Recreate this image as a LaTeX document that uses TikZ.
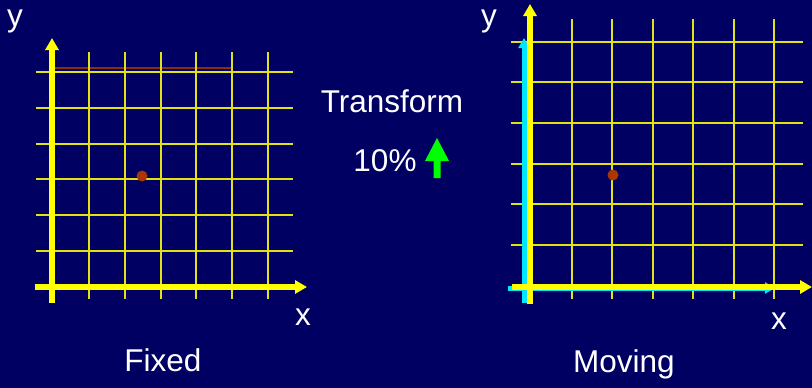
\documentclass[tikz,border=0pt]{standalone}
\usepackage{fontspec}
\setmainfont{Liberation Sans}
\usetikzlibrary{arrows.meta}
\definecolor{bg}{RGB}{0,0,98}
\definecolor{gridy}{RGB}{225,225,20}
\definecolor{axisy}{RGB}{255,255,0}
\definecolor{cy}{RGB}{0,230,255}
\definecolor{redl}{RGB}{160,55,0}
\definecolor{dotc}{RGB}{170,55,0}
\definecolor{grn}{RGB}{0,255,0}
\tikzset{
  gridline/.style={draw=gridy, line width=1.7pt},
  axisline/.style={draw=axisy, line width=5.5pt, -{Triangle[length=12pt,width=13pt]}},
  cyanaxis/.style={draw=cy, line width=5pt, -{Triangle[length=10pt,width=11pt]}},
  lbl/.style={text=white, font=\fontsize{31.5}{36}\selectfont, inner sep=0pt, anchor=base},
}
\begin{document}
\begin{tikzpicture}[x=1pt,y=-1pt]
\fill[bg] (0,0) rectangle (812,388);
\useasboundingbox (0,0) rectangle (812,388);
% ---- left panel ----
\draw[redl, line width=2.5pt, opacity=0.85] (52,68) -- (232,68) -- (232,287);
\foreach \xx in {89,125,161,196,232,268} \draw[gridline] (\xx,52) -- (\xx,299);
\foreach \yy in {72,108,144,179,215,251} \draw[gridline] (36,\yy) -- (293,\yy);
\coordinate (lyb) at (52,303);
\coordinate (lyt) at (52,38);
\coordinate (lxl) at (35,287);
\coordinate (lxr) at (307,287);
\draw[axisline] (lyb) -- (lyt);
\draw[axisline] (lxl) -- (lxr);
\node[circle, fill=dotc, inner sep=0pt, minimum size=11pt] (dotL) at (142,176) {};
\node[lbl] (ylabL) at (15,26) {y};
\node[lbl] (xlabL) at (303,325) {x};
\node[lbl] (fixed) at (163,371) {Fixed};
% ---- middle ----
\node[lbl] (transform) at (392,112) {Transform};
\node[lbl] (pct) at (385,171) {10\%};
\fill[grn] (437,138) -- (449,161) -- (440.5,161) -- (440.5,178) -- (433.5,178) -- (433.5,161) -- (425,161) -- cycle;
% ---- right panel ----
\foreach \xx in {572,612,653,693,734,774} \draw[gridline] (\xx,19) -- (\xx,299);
\foreach \yy in {42,82,123,164,204,245} \draw[gridline] (511,\yy) -- (803,\yy);
\coordinate (cyb) at (524,303);
\coordinate (cyt) at (524,38);
\coordinate (cxl) at (508,288);
\coordinate (cxr) at (775,288);
\draw[cyanaxis] (cyb) -- (cyt);
\draw[cyanaxis] (cxl) -- (cxr);
\coordinate (ryb) at (530,304);
\coordinate (ryt) at (530,4);
\coordinate (rxl) at (512,287);
\coordinate (rxr) at (812,287);
\draw[axisline] (ryb) -- (ryt);
\draw[axisline] (rxl) -- (rxr);
\node[circle, fill=dotc, inner sep=0pt, minimum size=11pt] (dotR) at (613,175) {};
\node[lbl] (ylabR) at (489,26) {y};
\node[lbl] (xlabR) at (779,329) {x};
\node[lbl] (moving) at (624,372) {Moving};
\end{tikzpicture}
\end{document}
